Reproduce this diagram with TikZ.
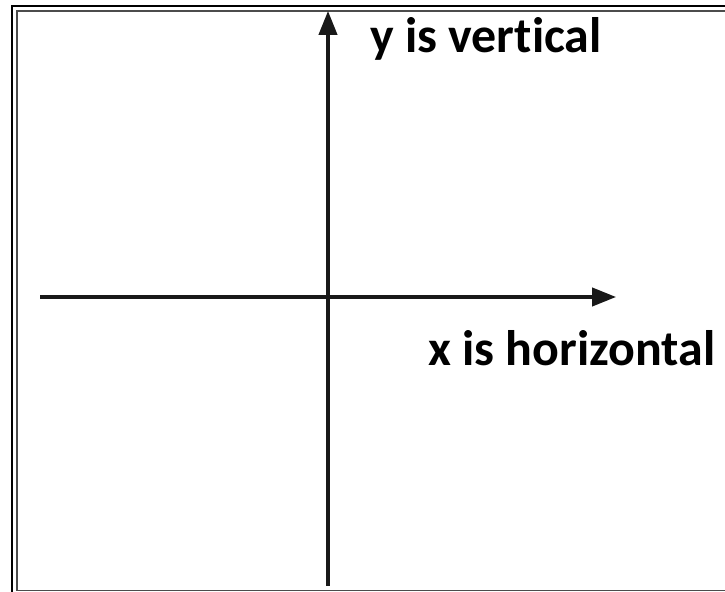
\documentclass[tikz,border=0pt]{standalone}
\usepackage{fontspec}
\setmainfont[Ligatures=NoCommon]{Carlito}
\usepackage{tikz}
\usetikzlibrary{arrows.meta, positioning}

\tikzset{
  axis/.style={line width=2.3pt, black!90, -{Triangle[length=17pt, width=13pt]}},
  caption/.style={font=\fontsize{35.5}{40}\selectfont\bfseries, inner sep=0pt, anchor=base west},
}

\begin{document}
\begin{tikzpicture}[x=0.025cm, y=0.025cm]
    \useasboundingbox (0,0) rectangle (725,592);
    % Frame (double line, cut off right)
    \begin{scope}
        \clip (0,0) rectangle (725,592);
        \draw[line width=1.6pt, black] (12,-20) rectangle (760,586);
        \draw[line width=1.4pt, black!70] (17,1.5) rectangle (750,581);
    \end{scope}

    % Axes
    \coordinate (xstart) at (40,295);
    \coordinate (xend) at (616,295);
    \coordinate (ystart) at (328,6);
    \coordinate (yend) at (328,581);
    \draw[axis] (xstart) -- (xend);
    \draw[axis] (ystart) -- (yend);

    % Labels
    \node[caption] (ylabel) at (370,539) {y is vertical};
    \node[caption] (xlabel) at (428,226) {x is horizontal};
\end{tikzpicture}
\end{document}
